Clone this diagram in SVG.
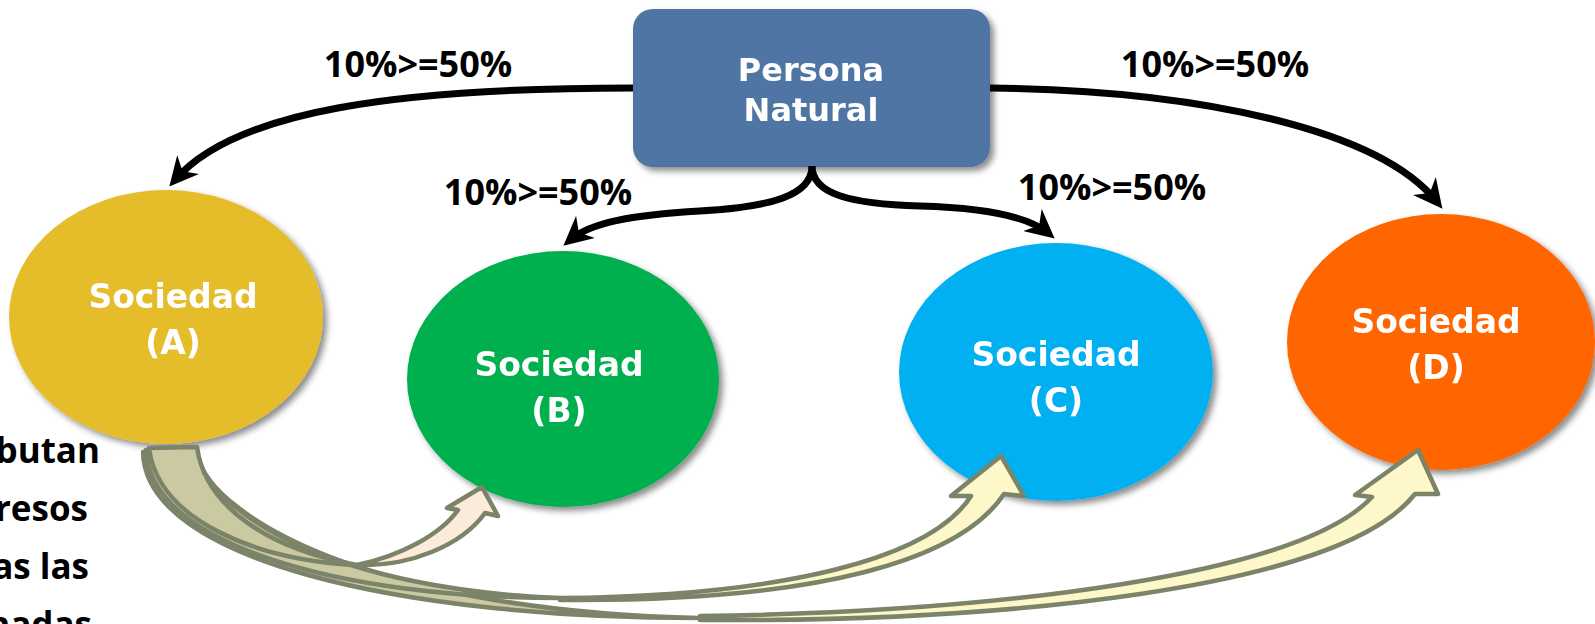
<svg xmlns="http://www.w3.org/2000/svg" width="1595" height="624" viewBox="0 0 1595 624">
  <defs>
    <filter id="shadow" x="-10%" y="-10%" width="130%" height="130%">
      <feDropShadow dx="4" dy="4" stdDeviation="3" flood-color="#000" flood-opacity="0.45"/>
    </filter>
    <marker id="stealth" viewBox="0 0 10 10" refX="7" refY="5" markerWidth="29" markerHeight="29" markerUnits="userSpaceOnUse" orient="auto">
      <path d="M0,0 L10,5 L0,10 L3,5 Z" fill="#000"/>
    </marker>
    <style>
      .node-label { font-family: "DejaVu Sans", sans-serif; font-weight: bold; font-size: 33px; fill: #fff; text-anchor: middle; }
      .box-label { font-size: 32px; }
      .pct { font-family: "Open Sans", "Liberation Sans", sans-serif; font-weight: bold; font-size: 36px; fill: #000; text-anchor: middle; }
      .side { font-family: "Open Sans", "Liberation Sans", sans-serif; font-weight: bold; font-size: 35px; fill: #000; text-anchor: end; }
      .link { fill: none; stroke: #000; stroke-width: 7; marker-end: url(#stealth); }
      .band { stroke: #7B8468; stroke-width: 4.5; stroke-linejoin: round; }
      .back { fill: #CBC9A1; }
      .front-peach { fill: #FCEBDB; }
      .front-cream { fill: #FDF7CA; }
    </style>
  </defs>

  <rect width="1595" height="624" fill="#fff"/>

  <!-- partly visible side text -->
  <g id="side-text">
    <text class="side" x="100" y="463">butan</text>
    <text class="side" x="88" y="521">resos</text>
    <text class="side" x="89" y="579">as las</text>
    <text class="side" x="92" y="637">nadas</text>
  </g>

  <!-- companies -->
  <g id="sociedad-a" filter="url(#shadow)">
    <ellipse cx="166" cy="317" rx="157" ry="127" fill="#E5BC2A"/>
    <text class="node-label" x="173" y="308">Sociedad</text>
    <text class="node-label" x="173" y="354">(A)</text>
  </g>
  <g id="sociedad-b" filter="url(#shadow)">
    <ellipse cx="563" cy="379" rx="156" ry="128" fill="#00B050"/>
    <text class="node-label" x="559" y="376">Sociedad</text>
    <text class="node-label" x="559" y="422">(B)</text>
  </g>
  <g id="sociedad-c" filter="url(#shadow)">
    <ellipse cx="1056" cy="372" rx="157" ry="129" fill="#00B0F0"/>
    <text class="node-label" x="1056" y="366">Sociedad</text>
    <text class="node-label" x="1056" y="412">(C)</text>
  </g>
  <g id="sociedad-d" filter="url(#shadow)">
    <ellipse cx="1441" cy="342" rx="154" ry="128" fill="#FF6600"/>
    <text class="node-label" x="1436" y="333">Sociedad</text>
    <text class="node-label" x="1436" y="379">(D)</text>
  </g>

  <!-- owner -->
  <g id="persona-natural" filter="url(#shadow)">
    <rect x="633" y="9" width="357" height="158" rx="20" fill="#4F75A5"/>
    <text class="node-label box-label" x="811" y="81">Persona</text>
    <text class="node-label box-label" x="811" y="121">Natural</text>
  </g>

  <!-- connectors -->
  <g id="connectors">
    <!-- ownership links -->
    <path class="link" d="M633,88 C400,88 235,110 175,180"/>
    <path class="link" d="M990,88 C1200,90 1380,130 1437,202"/>
    <path class="link" d="M812,166 C812,196 770,207 700,211 C630,215 590,223 570,240"/>
    <path class="link" d="M812,166 C812,194 850,204 920,206 C990,208 1030,218 1048,233"/>

    <!-- curved block arrows from A -->
    <g id="flow-a-d">
      <path class="band back" d="M143,452 C145,560 400,618 700,618 C400,612 215,530 191,447 Z"/>
      <path class="band front-cream" d="M700,616 C1000,612 1300,575 1372,497 L1355,495 L1418,450 L1438,494 L1415,494 C1340,590 1000,622 700,620 Z"/>
    </g>
    <g id="flow-a-c">
      <path class="band back" d="M146,450 C150,545 340,598 560,598 C345,590 210,520 194,447 Z"/>
      <path class="band front-cream" d="M560,598 C780,596 930,560 971,496 L951,496 L1001,456 L1024,496 L1004,494 C960,560 820,602 560,600 Z"/>
    </g>
    <g id="flow-a-b">
      <path class="band back" d="M149,448 C158,520 255,560 357,565 C265,548 205,505 197,447 Z"/>
      <path class="band front-peach" d="M357,565 C400,556 440,535 458,510 L447,508 L482,487 L498,516 L485,513 C462,545 410,567 357,565 Z"/>
    </g>
  </g>

  <!-- percentage labels -->
  <g id="labels">
    <text class="pct" x="418" y="77">10%&gt;=50%</text>
    <text class="pct" x="1215" y="77">10%&gt;=50%</text>
    <text class="pct" x="538" y="205">10%&gt;=50%</text>
    <text class="pct" x="1112" y="200">10%&gt;=50%</text>
  </g>
</svg>
